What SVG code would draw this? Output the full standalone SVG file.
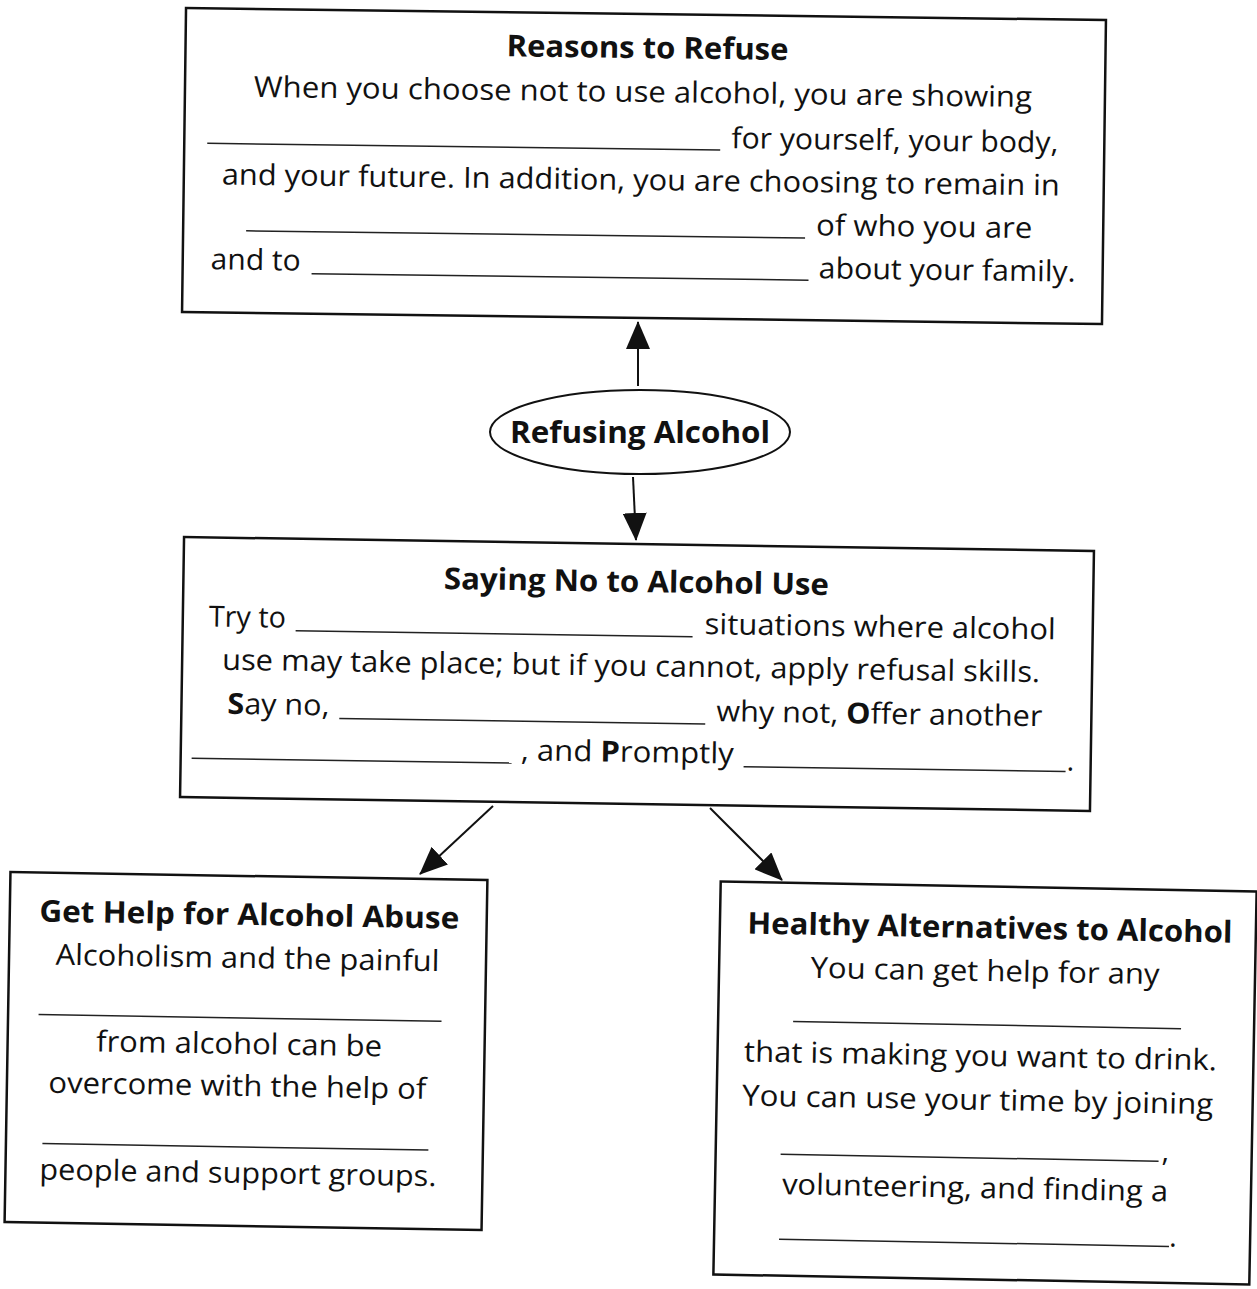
<svg xmlns="http://www.w3.org/2000/svg" width="1257" height="1289" viewBox="0 0 1257 1289">
<style>
.box{fill:#fff;stroke:#111;stroke-width:2.5}
.t{font-family:"Open Sans","Liberation Sans",sans-serif;font-size:29px;fill:#111}
.h{font-family:"Open Sans","Liberation Sans",sans-serif;font-size:30px;font-weight:700;fill:#111}
.b{font-weight:700}
.blank{stroke:#222;stroke-width:1.5}
.conn{stroke:#111;stroke-width:2;fill:none}
</style>
<defs>
<marker id="ah" markerUnits="userSpaceOnUse" markerWidth="28" markerHeight="24" refX="27" refY="12" orient="auto">
<path d="M0,0 L28,12 L0,24 z" fill="#111"/>
</marker>
</defs>
<rect width="1257" height="1289" fill="#fff"/>

<g id="connectors">
<line class="conn" x1="638" y1="386" x2="638" y2="322" marker-end="url(#ah)"/>
<line class="conn" x1="633" y1="477" x2="636" y2="540" marker-end="url(#ah)"/>
<line class="conn" x1="493" y1="806" x2="420" y2="874" marker-end="url(#ah)"/>
<line class="conn" x1="710" y1="808" x2="782" y2="880" marker-end="url(#ah)"/>
</g>

<g id="reasons" transform="rotate(0.75 644 166)">
<rect class="box" x="184" y="14" width="920" height="304"/>
<text class="h" x="646" y="58" text-anchor="middle" textLength="282" lengthAdjust="spacingAndGlyphs">Reasons to Refuse</text>
<text class="t" x="642" y="102" text-anchor="middle" textLength="778" lengthAdjust="spacingAndGlyphs">When you choose not to use alcohol, you are showing</text>
<line class="blank" x1="207" y1="149" x2="720" y2="149"/>
<text class="t" x="731" y="147" textLength="327" lengthAdjust="spacingAndGlyphs">for yourself, your body,</text>
<text class="t" x="641" y="190" text-anchor="middle" textLength="838" lengthAdjust="spacingAndGlyphs">and your future. In addition, you are choosing to remain in</text>
<line class="blank" x1="247" y1="236" x2="806" y2="236"/>
<text class="t" x="817" y="233" textLength="216" lengthAdjust="spacingAndGlyphs">of who you are</text>
<text class="t" x="212" y="275" textLength="90" lengthAdjust="spacingAndGlyphs">and to</text>
<line class="blank" x1="313" y1="278" x2="810" y2="278"/>
<text class="t" x="820" y="276" textLength="257" lengthAdjust="spacingAndGlyphs">about your family.</text>
</g>

<g id="refusing">
<ellipse cx="640" cy="432" rx="150" ry="42" fill="#fff" stroke="#111" stroke-width="2"/>
<text class="h" x="640" y="443" text-anchor="middle" font-size="31" textLength="260" lengthAdjust="spacingAndGlyphs">Refusing Alcohol</text>
</g>

<g id="saying-no" transform="rotate(0.88 637 674)">
<rect class="box" x="182" y="544" width="910" height="260"/>
<text class="h" x="635" y="592" text-anchor="middle" textLength="385" lengthAdjust="spacingAndGlyphs">Saying No to Alcohol Use</text>
<text class="t" x="208" y="633" textLength="77" lengthAdjust="spacingAndGlyphs">Try to</text>
<line class="blank" x1="295" y1="636" x2="692" y2="636"/>
<text class="t" x="704" y="633" textLength="351" lengthAdjust="spacingAndGlyphs">situations where alcohol</text>
<text class="t" x="631" y="676" text-anchor="middle" textLength="818" lengthAdjust="spacingAndGlyphs">use may take place; but if you cannot, apply refusal skills.</text>
<text class="t" x="228" y="720" textLength="102" lengthAdjust="spacingAndGlyphs"><tspan class="b">S</tspan>ay no,</text>
<line class="blank" x1="340" y1="723" x2="706" y2="723"/>
<text class="t" x="717" y="720" textLength="326" lengthAdjust="spacingAndGlyphs">why not, <tspan class="b">O</tspan>ffer another</text>
<line class="blank" x1="193" y1="765" x2="513" y2="765"/>
<text class="t" x="522" y="762" textLength="213" lengthAdjust="spacingAndGlyphs">, and <tspan class="b">P</tspan>romptly</text>
<line class="blank" x1="745" y1="765" x2="1067" y2="765"/>
<text class="t" x="1068" y="764">.</text>
</g>

<g id="get-help" transform="rotate(0.96 246 1051)">
<rect class="box" x="7.5" y="876" width="477" height="350"/>
<text class="h" x="247" y="925" text-anchor="middle" textLength="420" lengthAdjust="spacingAndGlyphs">Get Help for Alcohol Abuse</text>
<text class="t" x="246" y="968" text-anchor="middle" textLength="384" lengthAdjust="spacingAndGlyphs">Alcoholism and the painful</text>
<line class="blank" x1="38" y1="1018" x2="441" y2="1018"/>
<text class="t" x="239" y="1054" text-anchor="middle" textLength="286" lengthAdjust="spacingAndGlyphs">from alcohol can be</text>
<text class="t" x="238" y="1096" text-anchor="middle" textLength="378" lengthAdjust="spacingAndGlyphs">overcome with the help of</text>
<line class="blank" x1="44" y1="1147" x2="430" y2="1147"/>
<text class="t" x="240" y="1183" text-anchor="middle" textLength="397" lengthAdjust="spacingAndGlyphs">people and support groups.</text>
</g>

<g id="healthy-alternatives" transform="rotate(1.07 985 1083)">
<rect class="box" x="717" y="886.5" width="536" height="393"/>
<text class="h" x="987" y="938" text-anchor="middle" textLength="485" lengthAdjust="spacingAndGlyphs">Healthy Alternatives to Alcohol</text>
<text class="t" x="983" y="981" text-anchor="middle" textLength="349" lengthAdjust="spacingAndGlyphs">You can get help for any</text>
<line class="blank" x1="792" y1="1025" x2="1180" y2="1025"/>
<text class="t" x="980" y="1066" text-anchor="middle" textLength="473" lengthAdjust="spacingAndGlyphs">that is making you want to drink.</text>
<text class="t" x="978" y="1110" text-anchor="middle" textLength="471" lengthAdjust="spacingAndGlyphs">You can use your time by joining</text>
<line class="blank" x1="782" y1="1158" x2="1160" y2="1158"/>
<text class="t" x="1163" y="1158">,</text>
<text class="t" x="977" y="1198" text-anchor="middle" textLength="386" lengthAdjust="spacingAndGlyphs">volunteering, and finding a</text>
<line class="blank" x1="782" y1="1243" x2="1172" y2="1243"/>
<text class="t" x="1172" y="1243">.</text>
</g>
</svg>
